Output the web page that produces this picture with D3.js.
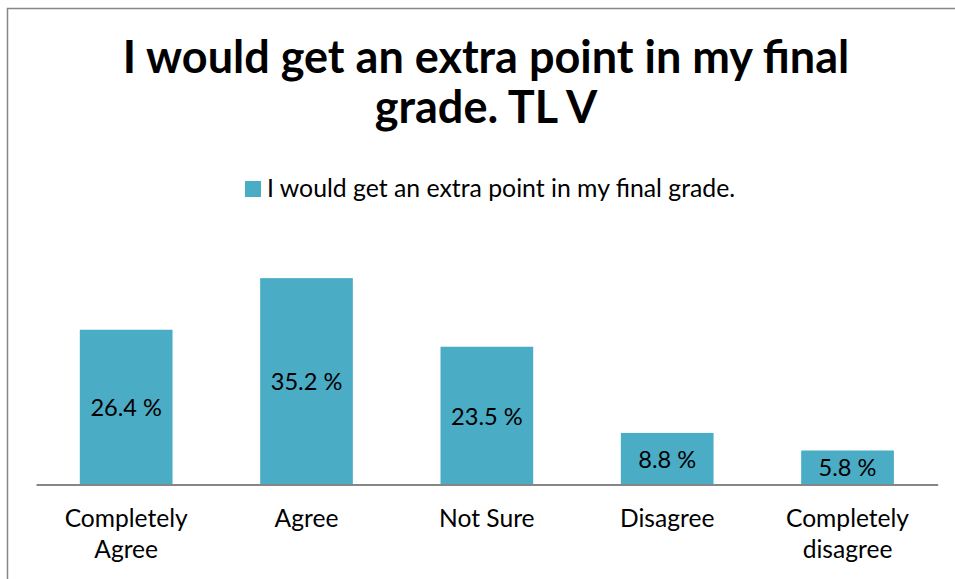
<!DOCTYPE html>
<html>
<head>
<meta charset="utf-8">
<script src="https://cdn.jsdelivr.net/npm/d3@7"></script>
<style>
  body { margin: 0; background: #fff; }
  text { font-family: Lato, "Open Sans", sans-serif; }
</style>
</head>
<body>
<div id="chart"></div>
<script>
// dati del grafico
const titleLines = ["I would get an extra point in my final", "grade. TL V"];
const seriesName = "I would get an extra point in my final grade.";
const categories = [["Completely", "Agree"], ["Agree"], ["Not Sure"], ["Disagree"], ["Completely", "disagree"]];
const values = [26.4, 35.2, 23.5, 8.8, 5.8];
const yDomain = [0, 40];

const width = 955;
const height = 579;
const barColor = "#4BACC6";

const svg = d3.select("#chart").append("svg")
    .attr("width", width)
    .attr("height", height);

// cornice del grafico (esce dal bordo destro e inferiore)
svg.append("rect")
    .attr("x", 7.5)
    .attr("y", 8.5)
    .attr("width", 1000)
    .attr("height", 1000)
    .attr("fill", "#fff")
    .attr("stroke", "#868686")
    .attr("stroke-width", 1.5);

// titolo
svg.append("text")
    .attr("x", 486)
    .attr("text-anchor", "middle")
    .style("font-size", "45px")
    .style("font-weight", "bold")
    .attr("fill", "#000")
    .selectAll("tspan")
    .data(titleLines)
    .join("tspan")
    .attr("x", 486)
    .attr("y", (d, i) => 73 + i * 50)
    .text(d => d);

// legenda
svg.append("rect")
    .attr("x", 245)
    .attr("y", 181)
    .attr("width", 16)
    .attr("height", 16)
    .attr("fill", barColor);

svg.append("text")
    .attr("x", 267)
    .attr("y", 197)
    .style("font-size", "24.8px")
    .attr("fill", "#000")
    .text(seriesName);

// scale
const idx = values.map((d, i) => i);
const x = d3.scaleBand()
    .domain(idx)
    .range([36, 937.7])
    .paddingInner(0.486)
    .paddingOuter(0.243);

const y = d3.scaleLinear()
    .domain(yDomain)
    .range([484.5, 250]);

// barre
svg.selectAll("rect.bar")
    .data(values)
    .join("rect")
    .attr("class", "bar")
    .attr("x", (d, i) => x(i))
    .attr("y", d => y(d))
    .attr("width", x.bandwidth())
    .attr("height", d => y(0) - y(d))
    .attr("fill", barColor);

// etichette dei valori, centrate nella barra
svg.selectAll("text.val")
    .data(values)
    .join("text")
    .attr("class", "val")
    .attr("x", (d, i) => x(i) + x.bandwidth() / 2)
    .attr("y", d => (y(d) + y(0)) / 2 + 9)
    .attr("text-anchor", "middle")
    .style("font-size", "23.6px")
    .attr("fill", "#000")
    .text(d => d.toFixed(1) + " %");

// asse x
const xAxis = svg.append("g")
    .attr("transform", `translate(0,${y(0)})`)
    .call(d3.axisBottom(x).tickSize(0).tickFormat(""));
xAxis.select(".domain")
    .attr("stroke", "#868686")
    .attr("stroke-width", 2);

// etichette delle categorie
svg.selectAll("text.cat")
    .data(categories)
    .join("text")
    .attr("class", "cat")
    .attr("text-anchor", "middle")
    .style("font-size", "24.6px")
    .attr("fill", "#000")
    .each(function(lines, i) {
        d3.select(this).selectAll("tspan")
            .data(lines)
            .join("tspan")
            .attr("x", x(i) + x.bandwidth() / 2)
            .attr("y", (d, j) => 527 + j * 31)
            .text(d => d);
    });
</script>
</body>
</html>
